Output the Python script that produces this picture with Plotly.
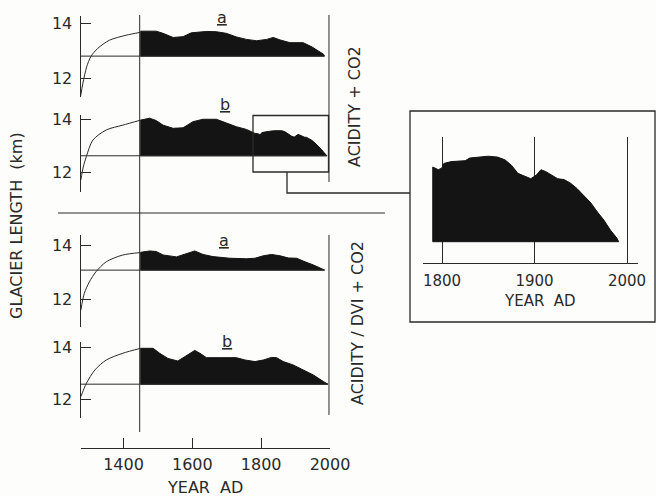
import plotly.graph_objects as go

# ---------------- data (km) ----------------
# spin-up curves (model initialisation, before 1450)
SPIN_1A_YEARS = [1275, 1282, 1293, 1305, 1325, 1359, 1407, 1450]
SPIN_1A_LEN = [11.33, 11.82, 12.42, 12.79, 13.09, 13.39, 13.57, 13.68]
SPIN_1B_YEARS = [1276, 1283, 1292, 1311, 1350, 1398, 1450]
SPIN_1B_LEN = [11.71, 12.20, 12.59, 13.21, 13.59, 13.77, 13.96]
SPIN_2A_YEARS = [1276, 1286, 1301, 1320, 1350, 1398, 1450]
SPIN_2A_LEN = [11.59, 12.21, 12.64, 13.01, 13.38, 13.63, 13.72]
SPIN_2B_YEARS = [1276, 1292, 1317, 1350, 1398, 1450]
SPIN_2B_LEN = [12.09, 12.60, 13.12, 13.50, 13.76, 13.95]

# simulated glacier length 1450 - present
A1_YEARS = [1450, 1495, 1515, 1544, 1573, 1597, 1641, 1670, 1699, 1728, 1757,
            1787, 1816, 1835, 1855, 1884, 1922, 1947, 1966, 1981, 1984]
A1_LEN = [13.72, 13.72, 13.64, 13.49, 13.52, 13.66, 13.71, 13.70, 13.64, 13.51, 13.42,
          13.37, 13.42, 13.49, 13.40, 13.30, 13.30, 13.15, 13.00, 12.88, 12.81]
B1_YEARS = [1450, 1476, 1495, 1515, 1544, 1573, 1602, 1631, 1670, 1699, 1728, 1757, 1782,
            1790, 1796, 1800, 1802, 1810, 1825, 1830, 1840, 1850, 1860, 1868, 1875,
            1882, 1889, 1896, 1902, 1907, 1912, 1918, 1925, 1932, 1939, 1946, 1953,
            1961, 1968, 1975, 1982, 1989, 1991]
B1_LEN = [13.96, 14.03, 13.94, 13.77, 13.65, 13.67, 13.90, 13.99, 13.99, 13.84, 13.71, 13.61, 13.46,
          13.45, 13.42, 13.44, 13.49, 13.51, 13.52, 13.55, 13.56, 13.57, 13.56, 13.53, 13.47,
          13.38, 13.35, 13.32, 13.36, 13.42, 13.40, 13.36, 13.32, 13.31, 13.27, 13.21, 13.14,
          13.05, 12.95, 12.86, 12.75, 12.66, 12.62]
A2_YEARS = [1450, 1476, 1495, 1515, 1554, 1583, 1607, 1631, 1660, 1709, 1757, 1782,
            1806, 1830, 1855, 1879, 1903, 1927, 1952, 1981, 1984]
A2_LEN = [13.73, 13.78, 13.76, 13.63, 13.56, 13.69, 13.78, 13.65, 13.57, 13.51, 13.49, 13.51,
          13.60, 13.65, 13.60, 13.52, 13.51, 13.38, 13.26, 13.09, 13.07]
B2_YEARS = [1450, 1486, 1505, 1529, 1558, 1583, 1607, 1622, 1641, 1680, 1728, 1753, 1782,
            1806, 1830, 1845, 1864, 1893, 1922, 1952, 1981, 1994]
B2_LEN = [13.95, 13.95, 13.76, 13.56, 13.46, 13.67, 13.87, 13.76, 13.59, 13.59, 13.59, 13.50, 13.44,
          13.50, 13.60, 13.59, 13.44, 13.31, 13.12, 12.92, 12.67, 12.57]

BASE_1A, BASE_1B, BASE_2A, BASE_2B = 12.81, 12.62, 13.07, 12.57

PANEL_LABELS = ["a", "b", "a", "b"]
GROUP_LABELS = ["ACIDITY + CO2", "ACIDITY / DVI + CO2"]
Y_TICKS = [12, 14]
X_TICKS = [1275, 1400, 1600, 1800, 2000]
X_TICKTEXT = ["", "1400", "1600", "1800", "2000"]
INSET_TICKS = [1800, 1900, 2000]
INSET_START = 1790
SPINUP_END = 1450
RIGHT_YEAR = 2000

# ---------------- layout helpers ----------------
W, H = 656, 496
INK = "#2a2a2a"
FILL = "#141414"
FONT = "DejaVu Sans"


def px(x):
    return x / W


def py(y):
    return 1 - y / H


def yrange(p14, p12, ptop, pbot):
    s = (p12 - p14) / 2.0
    return [14 - (pbot - p14) / s, 14 + (p14 - ptop) / s]


fig = go.Figure()

panels = [
    # spin years, spin len, years, len, base, yaxis, (p14, p12, ptop, pbot)
    (SPIN_1A_YEARS, SPIN_1A_LEN, A1_YEARS, A1_LEN, BASE_1A, "y", (23.5, 78.3, 16, 97)),
    (SPIN_1B_YEARS, SPIN_1B_LEN, B1_YEARS, B1_LEN, BASE_1B, "y2", (119, 172.3, 115, 192)),
    (SPIN_2A_YEARS, SPIN_2A_LEN, A2_YEARS, A2_LEN, BASE_2A, "y3", (245, 299, 235, 327)),
    (SPIN_2B_YEARS, SPIN_2B_LEN, B2_YEARS, B2_LEN, BASE_2B, "y4", (347, 399, 342, 418)),
]

X_DOM = [px(80.5), px(330)]
X_RANGE = [1275, 2000]

for i, (sy, sl, yrs, lens, base, ya, geo) in enumerate(panels):
    fx = list(yrs) + [yrs[-1], yrs[0], yrs[0]]
    fy = list(lens) + [base, base, lens[0]]
    fig.add_trace(go.Scatter(x=fx, y=fy, xaxis="x", yaxis=ya, mode="lines",
                             fill="toself", fillcolor=FILL,
                             line=dict(color=FILL, width=1), hoverinfo="skip"))
    fig.add_trace(go.Scatter(x=[sy[0] - 1, yrs[-1]], y=[base, base], xaxis="x", yaxis=ya,
                             mode="lines", line=dict(color=INK, width=1), hoverinfo="skip"))
    fig.add_trace(go.Scatter(x=sy, y=sl, xaxis="x", yaxis=ya, mode="lines",
                             line=dict(color=INK, width=1, shape="spline", smoothing=0.8),
                             hoverinfo="skip"))
    p14, p12, ptop, pbot = geo
    name = "yaxis" if ya == "y" else "yaxis" + ya[1:]
    fig.layout[name] = dict(
        domain=[py(pbot), py(ptop)], range=yrange(p14, p12, ptop, pbot),
        anchor="x", showline=True, linecolor=INK, linewidth=1, automargin=False,
        ticks="inside", ticklen=10, tickwidth=1, tickcolor=INK,
        tickvals=Y_TICKS, showgrid=False, zeroline=False,
        tickfont=dict(family=FONT, size=16, color=INK), ticklabelstandoff=4,
    )

# inset: zoom of panel 1b, 1790 - present
ix = [y for y in B1_YEARS if y >= INSET_START]
il = [l for y, l in zip(B1_YEARS, B1_LEN) if y >= INSET_START]
fig.add_trace(go.Scatter(x=ix + [ix[-1], ix[0], ix[0]], y=il + [BASE_1B, BASE_1B, il[0]],
                         xaxis="x2", yaxis="y5", mode="lines", fill="toself",
                         fillcolor=FILL, line=dict(color=FILL, width=1), hoverinfo="skip"))

fig.update_layout(
    width=W, height=H, autosize=False,
    margin=dict(l=0, r=0, t=0, b=0, pad=0, autoexpand=False),
    paper_bgcolor="#fdfdfb", plot_bgcolor="rgba(0,0,0,0)",
    showlegend=False,
    font=dict(family=FONT, color=INK, size=16),
    xaxis=dict(domain=X_DOM, range=X_RANGE, anchor="free", position=py(448),
               showline=True, linecolor=INK, linewidth=1, automargin=False,
               ticks="inside", ticklen=10, tickcolor=INK, tickwidth=1,
               tickvals=X_TICKS, ticktext=X_TICKTEXT, showgrid=False, zeroline=False,
               tickfont=dict(family=FONT, size=16, color=INK), ticklabelstandoff=2),
    xaxis2=dict(domain=[px(423), px(638)],
                range=[1800 - 19 / 0.925, 1800 + 196 / 0.925],
                anchor="y5", showline=True, linecolor=INK, linewidth=1, automargin=False,
                ticks="", tickvals=INSET_TICKS, showgrid=True, gridcolor=INK, gridwidth=1,
                zeroline=False, tickfont=dict(family=FONT, size=15, color=INK),
                ticklabelstandoff=4),
    yaxis5=dict(domain=[py(263), py(137)], anchor="x2", automargin=False,
                range=[12.62 - (263 - 241.7) / 90, 12.62 + (241.7 - 137) / 90],
                visible=False),
)

shapes = []
line = dict(color=INK, width=1)
shapes.append(dict(type="line", xref="x", yref="paper", x0=SPINUP_END - 3, x1=SPINUP_END - 3,
                   y0=py(432), y1=py(15), line=line))
shapes.append(dict(type="line", xref="x", yref="paper", x0=RIGHT_YEAR - 3, x1=RIGHT_YEAR - 3,
                   y0=py(182), y1=py(15), line=line))
shapes.append(dict(type="line", xref="x", yref="paper", x0=RIGHT_YEAR - 3, x1=RIGHT_YEAR - 3,
                   y0=py(415), y1=py(235), line=line))
shapes.append(dict(type="line", xref="paper", yref="paper", x0=px(58), x1=px(385),
                   y0=py(213), y1=py(213), line=line))
shapes.append(dict(type="rect", xref="paper", yref="paper", x0=px(253), x1=px(328.5),
                   y0=py(172), y1=py(115.5), line=dict(color=INK, width=1.3)))
shapes.append(dict(type="path", xref="paper", yref="paper",
                   path=f"M {px(287)} {py(172)} L {px(287)} {py(193)} L {px(410)} {py(193)}",
                   line=dict(color=INK, width=1.3)))
shapes.append(dict(type="rect", xref="paper", yref="paper", x0=px(410), x1=px(655),
                   y0=py(322), y1=py(111), line=dict(color=INK, width=1.3)))
fig.update_layout(shapes=shapes)

ann = []


def text(x, y, s, angle=0, size=16):
    ann.append(dict(x=px(x), y=py(y), xref="paper", yref="paper", text=s, showarrow=False,
                    textangle=angle, xanchor="center", yanchor="middle",
                    font=dict(family=FONT, size=size, color=INK)))


for (lx, ly), lab in zip([(222, 18), (225, 104), (224, 241), (227, 341)], PANEL_LABELS):
    text(lx, ly, f"<u>{lab}</u>")
text(355, 107, GROUP_LABELS[0], angle=-90)
text(357, 323, GROUP_LABELS[1], angle=-90)
text(17, 226, "GLACIER LENGTH  (km)", angle=-90)
text(205, 487, "YEAR  AD")
text(540, 301, "YEAR  AD", size=15)
fig.update_layout(annotations=ann)

fig.write_html("out.html", config={"displayModeBar": False},
               post_script="document.body.style.margin='0';document.body.style.overflow='hidden';")
